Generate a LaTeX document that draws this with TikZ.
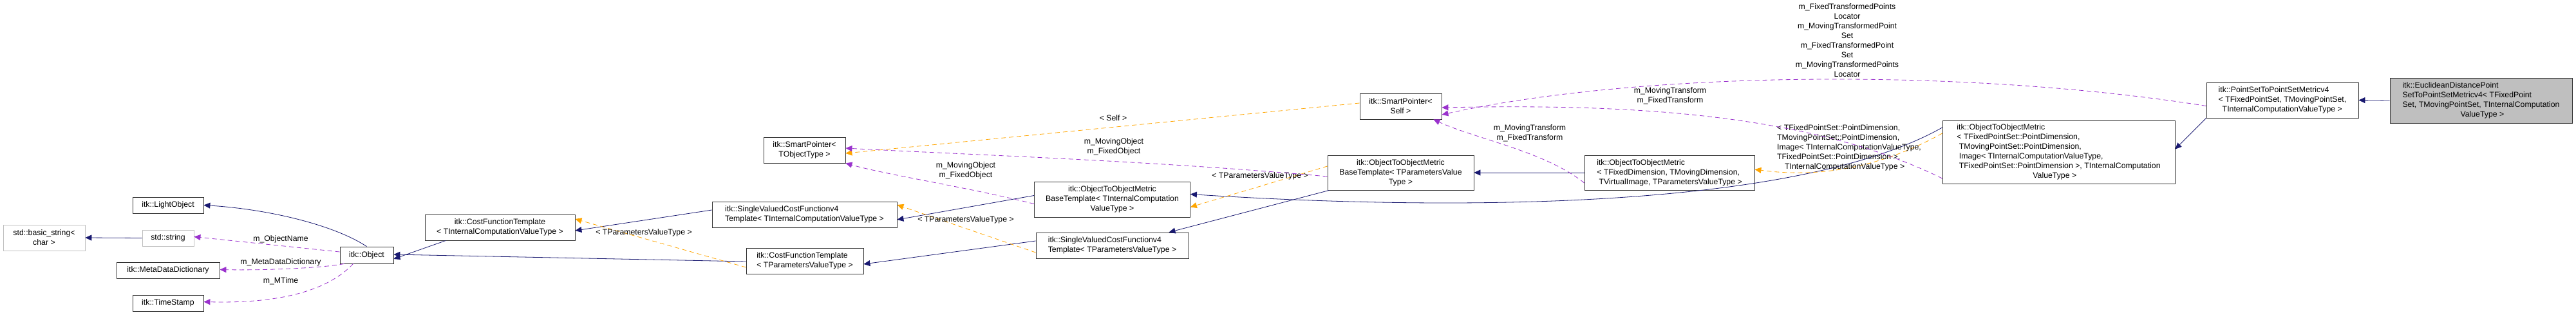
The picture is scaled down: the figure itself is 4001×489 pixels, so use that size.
\documentclass[tikz,border=0pt]{standalone}
\usepackage{fontspec}
\setmainfont{Liberation Sans}
\usetikzlibrary{arrows.meta}
\definecolor{inherit}{HTML}{191970}
\definecolor{tmpl}{HTML}{FFA500}
\definecolor{usage}{HTML}{9A32CD}

\begin{document}
\begin{tikzpicture}[x=1pt,y=-1pt,>={Triangle[length=10pt,width=9pt]},
  font=\fontsize{12.3}{15}\selectfont]
  \tikzset{cls/.style={draw=black!80,thick,fill=white,inner sep=0,align=center},
    ext/.style={cls,draw=black!25},
    hl/.style={cls,fill=black!25},
    lbl/.style={align=center,inner sep=0},
    isa/.style={->,inherit,thick},
    inst/.style={->,tmpl,thick,dashed,dash pattern=on 7pt off 5pt},
    uses/.style={->,usage,thick,dashed,dash pattern=on 7pt off 5pt}}
  \useasboundingbox (0,0) rectangle (4001,489);
  % classes
  \node [cls,minimum width=110,minimum height=25] (light) at (261,318.5) {itk::LightObject};
  \node [ext,minimum width=127,minimum height=40] (bstr) at (68.5,369) {std::basic\_string<\\char >};
  \node [ext,minimum width=80,minimum height=25] (str) at (261,369.5) {std::string};
  \node [cls,minimum width=160,minimum height=25] (mdd) at (261,419.5) {itk::MetaDataDictionary};
  \node [cls,minimum width=110,minimum height=25] (stamp) at (261,470.5) {itk::TimeStamp};
  \node [cls,minimum width=83,minimum height=26] (obj) at (569.5,396) {itk::Object};
  \node [cls,minimum width=233,minimum height=40] (cfti) at (776.5,353) {itk::CostFunctionTemplate\\< TInternalComputationValueType >};
  \node [cls,minimum width=127,minimum height=40] (spt) at (1249.5,233) {itk::SmartPointer<\\TObjectType >};
  \node [cls,minimum width=287,minimum height=40,align=left] (svcfi) at (1249.5,333) {itk::SingleValuedCostFunctionv4\\Template< TInternalComputationValueType >};
  \node [cls,minimum width=182,minimum height=40,align=left] (cftp) at (1250,405) {itk::CostFunctionTemplate\\< TParametersValueType >};
  \node [cls,minimum width=242,minimum height=55] (otombti) at (1727.5,309.5) {itk::ObjectToObjectMetric\hspace{70pt}\\BaseTemplate< TInternalComputation\\ValueType >};
  \node [cls,minimum width=237,minimum height=40,align=left] (svcfp) at (1727.5,381) {itk::SingleValuedCostFunctionv4\\Template< TParametersValueType >};
  \node [cls,minimum width=127,minimum height=40] (sps) at (2175.5,165) {itk::SmartPointer<\\Self >};
  \node [cls,minimum width=227,minimum height=54] (otombtp) at (2175.5,268) {itk::ObjectToObjectMetric\hspace{40pt}\\BaseTemplate< TParametersValue\\Type >};
  \node [cls,minimum width=264,minimum height=54,align=left] (otomd) at (2593,268) {itk::ObjectToObjectMetric\\< TFixedDimension, TMovingDimension,\\\ TVirtualImage, TParametersValueType >};
  \node [cls,minimum width=361,minimum height=98,align=left] (otomps) at (3197.5,236) {itk::ObjectToObjectMetric\\< TFixedPointSet::PointDimension,\\\ TMovingPointSet::PointDimension,\\\ Image< TInternalComputationValueType,\\\ TFixedPointSet::PointDimension >, TInternalComputation\\\hspace*{118pt}ValueType >};
  \node [cls,minimum width=236,minimum height=55,align=left] (psm) at (3545,155.5) {itk::PointSetToPointSetMetricv4\\< TFixedPointSet, TMovingPointSet,\\\hspace*{6pt}TInternalComputationValueType >};
  \node [hl,minimum width=283,minimum height=70,align=left] (eucl) at (3853.5,156) {itk::EuclideanDistancePoint\\SetToPointSetMetricv4< TFixedPoint\\Set, TMovingPointSet, TInternalComputation\\\hspace*{90pt}ValueType >};
  % inheritance
  \draw [isa] (obj.north) .. controls (520,350) and (420,325) .. (light.east);
  \draw [isa] (str.west) -- (bstr.east);
  \draw [isa] (cfti.south west) ++(33,0) -- ([yshift=-6]obj.east);
  \draw [isa] ([yshift=-1]cftp.west) -- ([yshift=1]obj.east);
  \draw [isa] ([yshift=7]svcfi.west) -- ([yshift=-5]cfti.east);
  \draw [isa] ([yshift=7]svcfp.west) -- ([yshift=-5]cftp.east);
  \draw [isa] ([yshift=6]otombti.west) -- ([yshift=-8]svcfi.east);
  \draw [isa] ([xshift=3]otombtp.south west) -- ([xshift=88]svcfp.north);
  \draw [isa] (otomd.west) -- (otombtp.east);
  \draw [isa] ([yshift=38]otomps.west) .. controls (2800,320) and (2300,330) .. ([yshift=8]otombti.east);
  \draw [isa] (psm.south west) -- ([yshift=-45]otomps.north east);
  \draw [isa] (eucl.west) -- (psm.east);
  % template instances
  \draw [inst] ([yshift=-10]cftp.west) -- ([yshift=13]cfti.east);
  \node [lbl] (lcft) at (1000,361) {< TParametersValueType >};
  \draw [inst] ([yshift=-11]svcfp.west) -- ([yshift=15]svcfi.east);
  \node [lbl] (lsvcf) at (1500,341) {< TParametersValueType >};
  \draw [inst] ([yshift=10]otombtp.west) -- ([yshift=-12]otombti.east);
  \node [lbl] (lotombt) at (1957,273) {< TParametersValueType >};
  \draw [inst] ([yshift=5]sps.west) -- ([yshift=-5]spt.east);
  \node [lbl] (lself) at (1729,183) {< Self >};
  \draw [inst] ([yshift=29]otomps.west) .. controls (2900,272) and (2800,273) .. ([yshift=5]otomd.east);
  \node [lbl,align=left] (lotom) at (2872,229) {< TFixedPointSet::PointDimension,\\TMovingPointSet::PointDimension,\\Image< TInternalComputationValueType,\\TFixedPointSet::PointDimension >,\\\hspace*{12pt}TInternalComputationValueType >};
  % usage
  \draw [uses] ([yshift=5]obj.west) -- ([yshift=2]str.east);
  \node [lbl] (lname) at (436,371) {m\_ObjectName};
  \draw [uses] ([xshift=7]obj.south west) .. controls (510,415) and (420,420) .. ([yshift=1]mdd.east);
  \node [lbl] (lmdd) at (436,407) {m\_MetaDataDictionary};
  \draw [uses] ([xshift=21]obj.south west) .. controls (520,440) and (460,472) .. ([yshift=2]stamp.east);
  \node [lbl] (ltime) at (436,436) {m\_MTime};
  \draw [uses] ([yshift=-7]otombti.west) .. controls (1500,290) and (1380,272) .. (spt.south east);
  \node [lbl] (lobj1) at (1500,265) {m\_MovingObject\\m\_FixedObject};
  \draw [uses] ([yshift=-6]otombtp.west) .. controls (1800,250) and (1500,240) .. ([yshift=3]spt.east);
  \node [lbl] (lobj2) at (1730,228) {m\_MovingObject\\m\_FixedObject};
  \draw [uses] ([yshift=-16]otomd.west) .. controls (2400,235) and (2290,215) .. ([xshift=-13]sps.south east);
  \node [lbl] (ltr1) at (2376,207) {m\_MovingTransform\\m\_FixedTransform};
  \draw [uses] ([yshift=-41]otomps.west) .. controls (2800,170) and (2500,162) .. ([yshift=-2]sps.east);
  \node [lbl] (ltr2) at (2594,149) {m\_MovingTransform\\m\_FixedTransform};
  \draw [uses] ([yshift=-9]psm.west) .. controls (3050,105) and (2550,110) .. ([yshift=-13]sps.east);
  \node [lbl] (lpts) at (2869,63) {m\_FixedTransformedPoints\\Locator\\m\_MovingTransformedPoint\\Set\\m\_FixedTransformedPoint\\Set\\m\_MovingTransformedPoints\\Locator};
\end{tikzpicture}
\end{document}
